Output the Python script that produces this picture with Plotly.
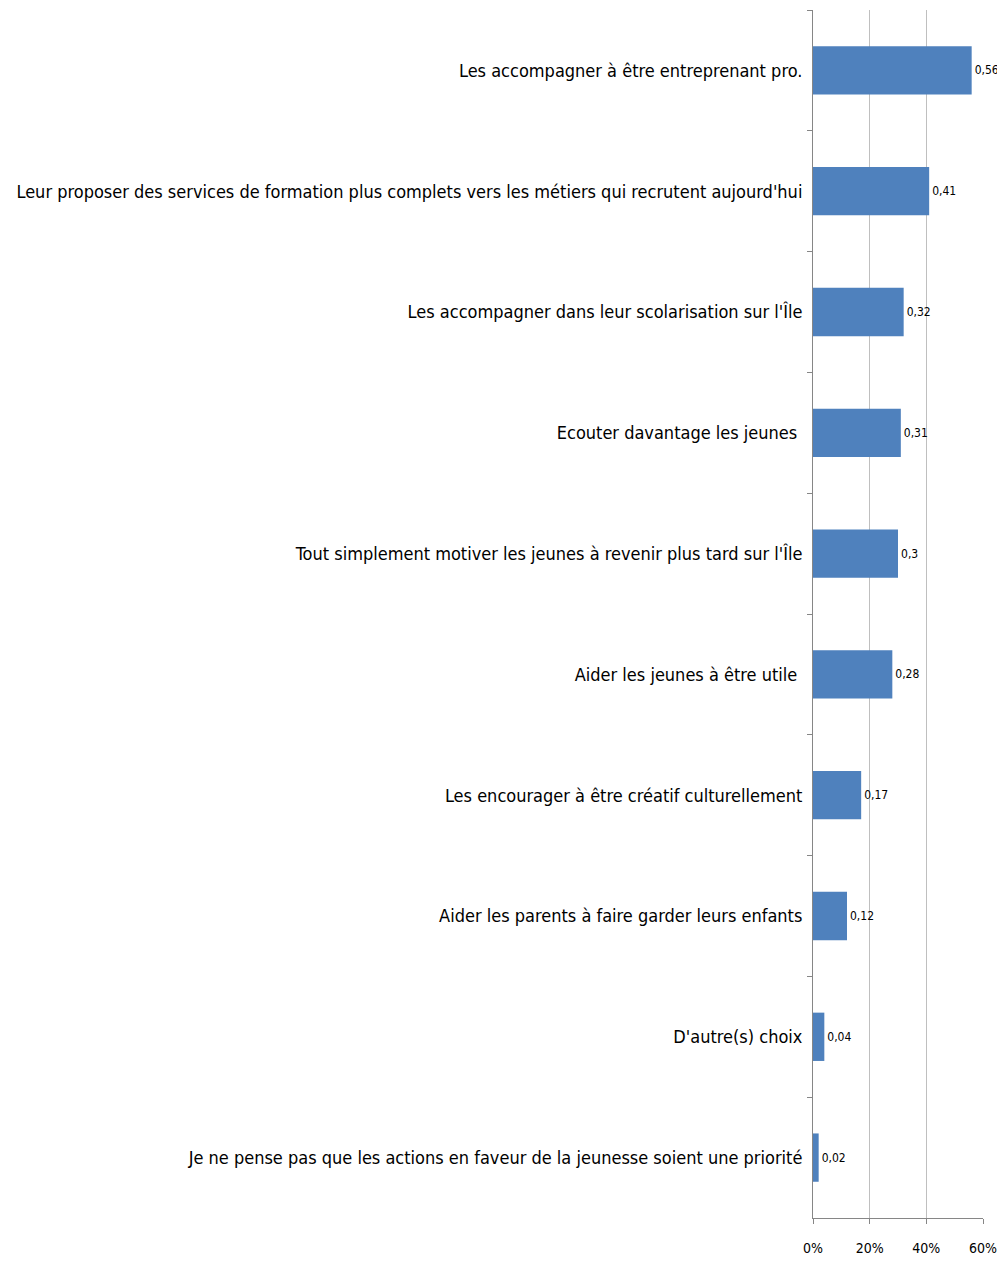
import plotly.graph_objects as go

# answers, top to bottom
categories = [
    "Les accompagner à être entreprenant pro.",
    "Leur proposer des services de formation plus complets vers les métiers qui recrutent aujourd'hui",
    "Les accompagner dans leur scolarisation sur l'Île",
    "Ecouter davantage les jeunes ",
    "Tout simplement motiver les jeunes à revenir plus tard sur l'Île",
    "Aider les jeunes à être utile ",
    "Les encourager à être créatif culturellement",
    "Aider les parents à faire garder leurs enfants",
    "D'autre(s) choix",
    "Je ne pense pas que les actions en faveur de la jeunesse soient une priorité",
]
values = [0.56, 0.41, 0.32, 0.31, 0.30, 0.28, 0.17, 0.12, 0.04, 0.02]
x_ticks = [0, 0.2, 0.4, 0.6]

FONT = "DejaVu Sans Condensed, Liberation Sans Narrow, sans-serif"

labels = [("%g" % v).replace(".", ",") for v in values]

fig = go.Figure()
fig.add_trace(go.Bar(
    x=values,
    y=categories,
    orientation="h",
    marker={"color": "#4F81BD", "line": {"width": 0}},
    text=labels,
    textposition="outside",
    constraintext="none",
    cliponaxis=False,
    textfont={"family": FONT, "size": 12, "color": "#000000"},
    showlegend=False,
))

# page body adds 8px around the figure, so size it to fit the window
fig.update_layout(
    width=997,
    height=1248,
    margin={"l": 805, "r": 22, "t": 2, "b": 38},
    paper_bgcolor="white",
    plot_bgcolor="white",
    bargap=0.6,
    font={"family": FONT, "color": "#000000"},
)

fig.update_xaxes(
    range=[0, 0.6],
    tickvals=x_ticks,
    tickformat=".0%",
    tickangle=0,
    automargin=False,
    ticklabeloverflow="allow",
    showgrid=True,
    gridcolor="#BFBFBF",
    gridwidth=1,
    zeroline=False,
    showline=True,
    linecolor="#868686",
    ticks="outside",
    ticklen=5,
    tickcolor="#868686",
    ticklabelstandoff=12,
    tickfont={"family": FONT, "size": 14},
)

fig.update_yaxes(
    autorange="reversed",
    automargin=False,
    showline=True,
    linecolor="#868686",
    ticks="outside",
    tickson="boundaries",
    ticklen=5,
    tickcolor="#868686",
    showgrid=False,
    ticklabelstandoff=6,
    tickfont={"family": FONT, "size": 18},
)

fig.write_html("out.html")
